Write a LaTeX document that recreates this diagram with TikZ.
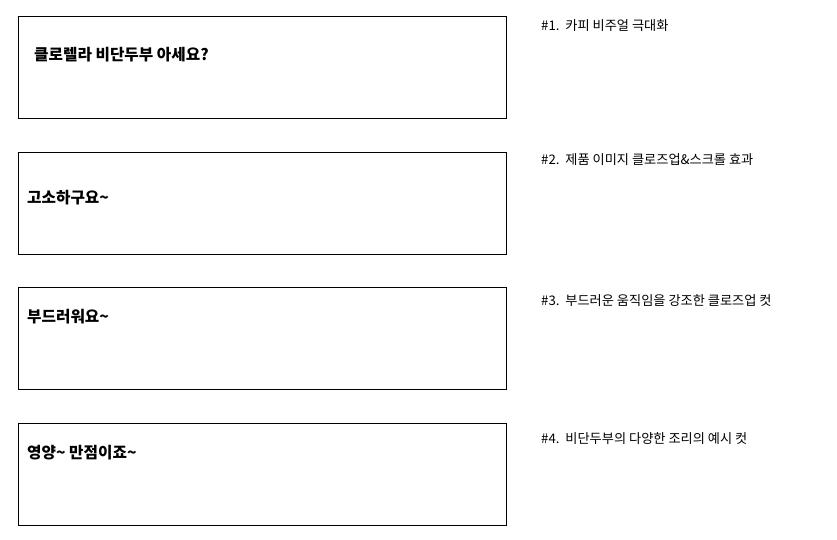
\documentclass[tikz,border=0pt]{standalone}
\usepackage{fontspec}
\setmainfont{Noto Sans CJK KR}
\begin{document}
\begin{tikzpicture}[x=1pt,y=-1pt,
  panel/.style={draw=black,line width=1pt},
  captext/.style={anchor=west,inner sep=0pt,font=\fontsize{15.7}{18}\selectfont\bfseries},
  note/.style={anchor=west,inner sep=0pt,font=\fontsize{13.2}{15}\selectfont}]
\useasboundingbox (0,0) rectangle (837,539);
\draw[panel] (18.5,16.5) rectangle (506.5,118.5);
\draw[panel] (18.5,152.5) rectangle (506.5,254.5);
\draw[panel] (18.5,287.5) rectangle (506.5,389.5);
\draw[panel] (18.5,423.5) rectangle (506.5,525.5);
\node[captext] (t1) at (34,54.5) {클로렐라 비단두부 아세요?};
\node[captext] (t2) at (27,197.5) {고소하구요\char`\~};
\node[captext] (t3) at (27,316.5) {부드러워요\char`\~};
\node[captext] (t4) at (27,452.5) {영양\char`\~{} 만점이죠\char`\~};
\node[note] (n1) at (541,25.5) {\#1.\ \ 카피 비주얼 극대화};
\node[note] (n2) at (541,159.5) {\#2.\ \ 제품 이미지 클로즈업\&스크롤 효과};
\node[note] (n3) at (541,300.5) {\#3.\ \ 부드러운 움직임을 강조한 클로즈업 컷};
\node[note] (n4) at (541,438.5) {\#4.\ \ 비단두부의 다양한 조리의 예시 컷};
\end{tikzpicture}
\end{document}
